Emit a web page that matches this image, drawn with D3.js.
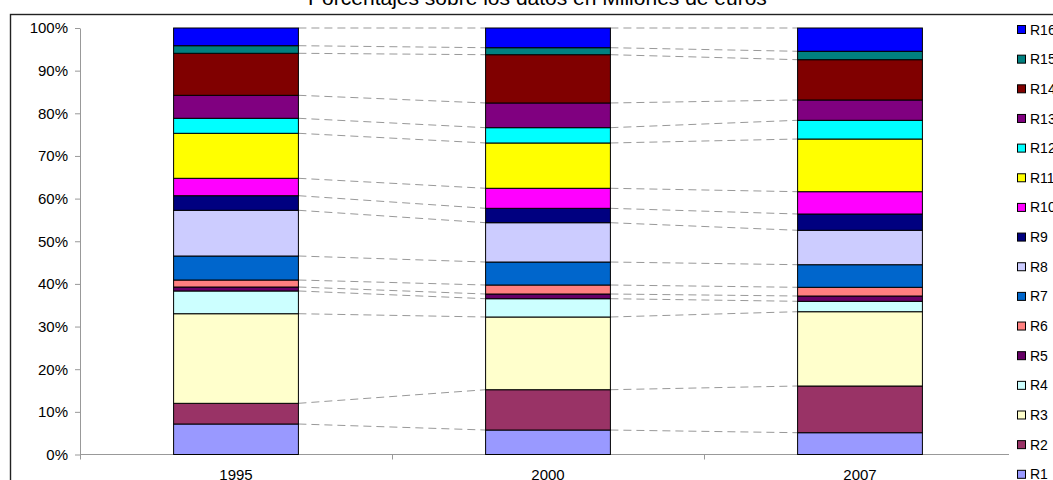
<!DOCTYPE html>
<html>
<head>
<meta charset="utf-8">
<script src="https://cdn.jsdelivr.net/npm/d3@7"></script>
<style>
	body { margin: 0; background: #fff; }
	svg text { font-family: "Liberation Sans", Arial, sans-serif; fill: #000; }
</style>
</head>
<body>
<svg id="chart" width="1053" height="480"></svg>
<script>
const years = ["1995", "2000", "2007"];
const regions = ["R1", "R2", "R3", "R4", "R5", "R6", "R7", "R8", "R9", "R10", "R11", "R12", "R13", "R14", "R15", "R16"];
const regionColors = ["#9999FF", "#993366", "#FFFFCC", "#CCFFFF", "#660066", "#FF8080", "#0066CC", "#CCCCFF",
	"#000080", "#FF00FF", "#FFFF00", "#00FFFF", "#800080", "#800000", "#008080", "#0000FF"];

// shares (%) per region
const share1995 = [7.15, 4.85, 21.01, 5.33, 0.93, 1.64, 5.63, 10.72, 3.42, 4.08, 10.55, 3.52, 5.39, 9.85, 1.78, 4.15];
const share2000 = [5.74, 9.45, 17.05, 4.29, 1.10, 2.11, 5.39, 9.22, 3.37, 4.70, 10.62, 3.59, 5.79, 11.32, 1.64, 4.62];
const share2007 = [5.11, 10.95, 17.42, 2.44, 1.24, 2.04, 5.30, 8.07, 3.82, 5.23, 12.35, 4.39, 4.76, 9.45, 1.97, 5.46];

const yTicks = [0, 10, 20, 30, 40, 50, 60, 70, 80, 90, 100];
const title = "Porcentajes sobre los datos en Millones de euros";

const table = years.map((yr, i) => {
	let row = { year: yr };
	let vals = [share1995, share2000, share2007][i];
	regions.forEach((r, j) => row[r] = vals[j]);
	return row;
});

const svg = d3.select("#chart");

const x = d3.scaleBand()
	.domain(years)
	.range([80, 1016])
	.paddingInner(0.6)
	.paddingOuter(0.3);

const y = d3.scaleLinear()
	.domain([0, 100])
	.range([454.5, 28]);

const color = d3.scaleOrdinal().domain(regions).range(regionColors);

const series = d3.stack().keys(regions)(table);

// chart frame
svg.append("rect")
	.attr("x", 10.5)
	.attr("y", 14.5)
	.attr("width", 1100)
	.attr("height", 500)
	.attr("fill", "none")
	.attr("stroke", "#222")
	.attr("stroke-width", 1.4);

svg.append("text")
	.attr("x", 537.5)
	.attr("y", 5)
	.attr("text-anchor", "middle")
	.style("font-size", "21px")
	.text(title);

// y axis
const yAxis = svg.append("g")
	.attr("transform", "translate(80,0)")
	.call(d3.axisLeft(y)
		.tickValues(yTicks)
		.tickFormat(d => d + "%")
		.tickSize(5)
		.tickSizeOuter(0)
		.tickPadding(7));
yAxis.selectAll("path, line").attr("stroke", "#999");
yAxis.selectAll("text").style("font-size", "15px").attr("fill", "#000");

// x axis: ticks sit between the categories
const edge = d3.scaleLinear().domain([0, years.length]).range(x.range());
const xAxis = svg.append("g")
	.attr("transform", `translate(0,${y(0)})`)
	.call(d3.axisBottom(edge)
		.tickValues([0, 1, 2])
		.tickFormat("")
		.tickSize(5)
		.tickSizeOuter(0));
xAxis.select("path").attr("d", "M80,0H1009");
xAxis.selectAll("path, line").attr("stroke", "#999");

svg.append("g")
	.selectAll("text")
	.data(years)
	.join("text")
	.attr("x", d => x(d) + x.bandwidth() / 2)
	.attr("y", 480)
	.attr("text-anchor", "middle")
	.style("font-size", "15px")
	.text(d => d);

// dashed series lines between the bars
const links = [];
series.forEach(s => {
	for (let i = 0; i < years.length - 1; i++) {
		links.push({ x1: x(years[i]) + x.bandwidth(), y1: y(s[i][1]), x2: x(years[i + 1]), y2: y(s[i + 1][1]) });
	}
});
svg.append("g")
	.selectAll("line")
	.data(links)
	.join("line")
	.attr("x1", d => d.x1)
	.attr("y1", d => d.y1)
	.attr("x2", d => d.x2)
	.attr("y2", d => d.y2)
	.attr("stroke", "#999")
	.attr("stroke-width", 1)
	.attr("stroke-dasharray", "8,5");

// bars
svg.append("g")
	.selectAll("g")
	.data(series)
	.join("g")
	.attr("fill", d => color(d.key))
	.selectAll("rect")
	.data(d => d)
	.join("rect")
	.attr("x", d => x(d.data.year))
	.attr("y", d => y(d[1]))
	.attr("width", x.bandwidth())
	.attr("height", d => y(d[0]) - y(d[1]))
	.attr("stroke", "#000")
	.attr("stroke-width", 1);

// legend, R16 on top
const legendY = d3.scaleLinear().domain([0, regions.length - 1]).range([474.3, 29.5]);
const legend = svg.append("g")
	.selectAll("g")
	.data(regions)
	.join("g")
	.attr("transform", (d, i) => `translate(1017,${legendY(i)})`);

legend.append("rect")
	.attr("x", 0.5)
	.attr("y", -4)
	.attr("width", 8)
	.attr("height", 8)
	.attr("fill", d => color(d))
	.attr("stroke", "#000");

legend.append("text")
	.attr("x", 13)
	.attr("dy", "0.36em")
	.style("font-size", "14px")
	.text(d => d);
</script>
</body>
</html>
